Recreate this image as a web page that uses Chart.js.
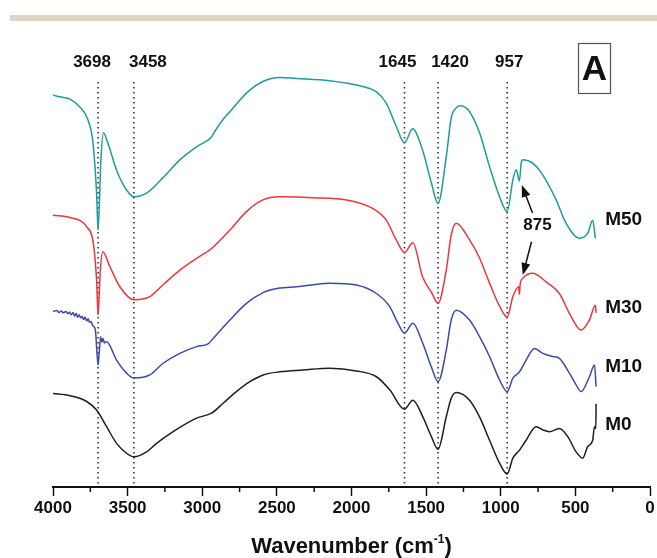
<!DOCTYPE html>
<html>
<head>
<meta charset="utf-8">
<script src="https://cdn.jsdelivr.net/npm/chart.js@4.4.0/dist/chart.umd.min.js"></script>
<style>
  html, body { margin: 0; padding: 0; background: #fff; }
  #wrap { position: relative; width: 657px; height: 558px; }
  .bar { position: absolute; left: 10px; right: 0; top: 15px; height: 6px; background: #ddd6c4; }
  canvas { position: absolute; left: 0; top: 0; }
</style>
</head>
<body>
<div id="wrap">
  <div class="bar"></div>
  <canvas id="ftir" width="657" height="558"></canvas>
</div>
<script>
// wavenumbers (cm-1) and transmittance (a.u., curves offset)
var m50Wn = [4000, 3953, 3886, 3819, 3766, 3732, 3708, 3698, 3679, 3663, 3632, 3574, 3507, 3458, 3373, 3264, 3150, 3038, 2938, 2916, 2862, 2815, 2695, 2594, 2481, 2369, 2146, 1925, 1833, 1767, 1700, 1645, 1591, 1524, 1465, 1420, 1365, 1332, 1300, 1276, 1240, 1209, 1142, 1075, 1008, 957, 919, 896, 875, 863, 852, 785, 718, 629, 562, 473, 417, 384, 366];
var m50T  = [87.1, 86.7, 86.2, 84.4, 81.6, 76.4, 65.3, 57.1, 72.7, 78.7, 76.4, 70.4, 66.0, 64.5, 65.3, 68.7, 72.7, 75.6, 77.8, 79.0, 81.6, 83.4, 87.8, 90.1, 91.0, 90.8, 90.3, 89.0, 87.8, 85.3, 80.1, 76.5, 79.6, 74.9, 67.6, 63.0, 73.4, 82.0, 84.2, 84.7, 84.4, 83.4, 78.7, 71.2, 64.5, 61.2, 68.2, 70.5, 68.0, 72.0, 72.7, 71.9, 69.3, 63.8, 58.6, 55.3, 56.4, 59.3, 55.3];

var m30Wn = [4000, 3886, 3774, 3730, 3708, 3698, 3683, 3667, 3619, 3552, 3458, 3351, 3264, 3150, 3038, 2938, 2815, 2704, 2594, 2481, 2260, 2034, 1858, 1767, 1700, 1645, 1589, 1524, 1465, 1420, 1365, 1332, 1298, 1209, 1142, 1075, 1008, 957, 919, 880, 875, 870, 852, 785, 696, 607, 540, 462, 406, 366, 361];
var m30T  = [60.4, 59.9, 57.8, 54.2, 46.0, 38.2, 48.2, 52.3, 49.0, 44.5, 41.6, 42.3, 44.9, 48.2, 50.8, 53.0, 57.1, 61.2, 63.8, 64.5, 64.3, 63.8, 61.9, 59.3, 54.9, 52.1, 54.3, 46.7, 43.3, 40.8, 48.2, 56.0, 58.6, 54.9, 50.9, 45.3, 40.2, 37.8, 42.3, 44.5, 42.8, 45.0, 46.4, 47.5, 45.6, 43.0, 38.6, 34.9, 37.1, 40.4, 38.7];

var m10Wn = [4000, 3975, 3960, 3945, 3930, 3915, 3900, 3890, 3878, 3866, 3855, 3845, 3835, 3825, 3815, 3805, 3795, 3785, 3775, 3765, 3755, 3745, 3735, 3725, 3715, 3698, 3690, 3681, 3672, 3665, 3655, 3641, 3574, 3507, 3458, 3351, 3262, 3150, 3038, 2961, 2927, 2815, 2704, 2592, 2481, 2369, 2146, 1967, 1833, 1744, 1689, 1645, 1589, 1522, 1465, 1420, 1365, 1332, 1298, 1209, 1142, 1075, 1008, 957, 919, 874, 830, 774, 718, 651, 607, 540, 495, 462, 406, 372, 361];
var m10T  = [39.0, 39.2, 38.8, 39.1, 38.7, 39.0, 38.5, 38.9, 38.3, 38.8, 38.0, 38.6, 37.7, 38.3, 37.6, 37.9, 37.2, 37.8, 36.9, 37.4, 36.6, 36.8, 35.9, 35.6, 34.6, 27.1, 30.0, 33.4, 32.2, 33.0, 32.0, 32.3, 28.2, 25.3, 24.2, 24.9, 27.5, 29.7, 31.2, 31.8, 33.0, 37.1, 40.8, 43.2, 44.2, 44.5, 45.3, 44.9, 43.0, 40.1, 36.4, 34.2, 36.4, 31.9, 26.7, 23.4, 30.4, 37.1, 39.3, 37.1, 33.4, 29.0, 23.8, 21.2, 24.2, 25.6, 28.2, 30.8, 29.7, 29.0, 28.6, 25.3, 22.7, 21.2, 24.5, 27.1, 22.3];

var m0Wn = [4000, 3886, 3774, 3708, 3641, 3574, 3507, 3458, 3373, 3306, 3195, 3038, 2938, 2860, 2771, 2681, 2592, 2481, 2325, 2146, 1967, 1833, 1744, 1645, 1589, 1522, 1465, 1420, 1365, 1332, 1298, 1209, 1142, 1075, 1008, 957, 919, 874, 830, 763, 718, 674, 607, 551, 495, 451, 417, 384, 372, 363, 361];
var m0T  = [20.8, 20.3, 19.0, 17.1, 13.4, 9.7, 7.5, 6.7, 7.8, 9.7, 12.3, 15.3, 16.4, 18.6, 21.2, 23.4, 24.9, 25.6, 26.0, 26.4, 25.8, 24.5, 21.6, 17.3, 19.3, 15.6, 11.2, 8.4, 15.6, 19.7, 21.0, 19.3, 15.6, 10.4, 5.3, 2.9, 6.4, 8.2, 10.4, 13.4, 12.7, 12.3, 13.0, 11.2, 7.8, 6.4, 9.0, 10.4, 13.4, 13.0, 18.5];

var seriesNames  = ['M50', 'M30', 'M10', 'M0'];
var seriesColors = ['#1f9c9c', '#e8383d', '#3b4aa6', '#1e1e1e'];
var peakWn = [3698, 3458, 1645, 1420, 957];

function pts(wn, t) {
  return wn.map(function (w, i) { return { x: w, y: t[i] }; });
}

var curves = [pts(m50Wn, m50T), pts(m30Wn, m30T), pts(m10Wn, m10T), pts(m0Wn, m0T)];

var datasets = curves.map(function (d, i) {
  return {
    label: seriesNames[i],
    data: d,
    borderColor: seriesColors[i],
    borderWidth: 1.5,
    pointRadius: 0,
    cubicInterpolationMode: 'monotone',
    fill: false
  };
});

peakWn.forEach(function (w) {
  datasets.push({
    label: 'peak ' + w,
    data: [{ x: w, y: 90 }, { x: w, y: 0 }],
    borderColor: '#333',
    borderWidth: 1.6,
    borderDash: [1.6, 3.4],
    pointRadius: 0
  });
});

var FONT = "'Liberation Sans', Arial, sans-serif";

function arrow(ctx, x1, y1, x2, y2) {
  var a = Math.atan2(y2 - y1, x2 - x1);
  ctx.beginPath();
  ctx.moveTo(x1, y1);
  ctx.lineTo(x2 - 8 * Math.cos(a), y2 - 8 * Math.sin(a));
  ctx.stroke();
  ctx.beginPath();
  ctx.moveTo(x2, y2);
  ctx.lineTo(x2 - 12 * Math.cos(a) + 4.5 * Math.sin(a), y2 - 12 * Math.sin(a) - 4.5 * Math.cos(a));
  ctx.lineTo(x2 - 12 * Math.cos(a) - 4.5 * Math.sin(a), y2 - 12 * Math.sin(a) + 4.5 * Math.cos(a));
  ctx.closePath();
  ctx.fill();
}

var decor = {
  id: 'decor',
  afterDraw: function (chart) {
    var ctx = chart.ctx, xs = chart.scales.x, ys = chart.scales.y;
    var area = chart.chartArea;
    ctx.save();
    ctx.fillStyle = '#111';
    ctx.strokeStyle = '#111';

    // minor ticks
    ctx.lineWidth = 1.5;
    for (var v = 250; v < 4000; v += 500) {
      var px = xs.getPixelForValue(v);
      ctx.beginPath();
      ctx.moveTo(px, area.bottom);
      ctx.lineTo(px, area.bottom + 5);
      ctx.stroke();
    }

    // peak labels
    var shift = [-6, 14, -7, 12, 2];
    ctx.font = 'bold 17px ' + FONT;
    ctx.textAlign = 'center';
    ctx.textBaseline = 'middle';
    peakWn.forEach(function (w, i) {
      ctx.fillText(String(w), xs.getPixelForValue(w) + shift[i], 62);
    });

    // series names at right end
    var nameY = [59.3, 39.8, 26.7, 13.8];
    ctx.font = 'bold 19px ' + FONT;
    ctx.textAlign = 'left';
    seriesNames.forEach(function (n, i) {
      ctx.fillText(n, xs.getPixelForValue(300), ys.getPixelForValue(nameY[i]));
    });

    // 875 annotation
    ctx.font = 'bold 17px ' + FONT;
    ctx.textAlign = 'center';
    ctx.fillText('875', xs.getPixelForValue(754), ys.getPixelForValue(58.2));
    ctx.lineWidth = 1.5;
    arrow(ctx, xs.getPixelForValue(787), ys.getPixelForValue(60.9), xs.getPixelForValue(859), ys.getPixelForValue(67.1));
    arrow(ctx, xs.getPixelForValue(794), ys.getPixelForValue(54.5), xs.getPixelForValue(852), ys.getPixelForValue(47.1));

    // panel letter
    ctx.strokeStyle = '#555';
    ctx.lineWidth = 1.2;
    ctx.strokeRect(578.5, 43.5, 32, 50);
    ctx.fillStyle = '#111';
    ctx.font = 'bold 35px ' + FONT;
    ctx.fillText('A', 594.5, 70);

    // axis title with superscript
    var t1 = 'Wavenumber (cm', sup = '-1', t2 = ')';
    ctx.font = 'bold 22px ' + FONT;
    var w1 = ctx.measureText(t1).width, w3 = ctx.measureText(t2).width;
    ctx.font = 'bold 12px ' + FONT;
    var w2 = ctx.measureText(sup).width;
    var x0 = (area.left + area.right) / 2 - (w1 + w2 + w3) / 2;
    ctx.textAlign = 'left';
    ctx.textBaseline = 'alphabetic';
    ctx.font = 'bold 22px ' + FONT;
    ctx.fillText(t1, x0, 553);
    ctx.font = 'bold 12px ' + FONT;
    ctx.fillText(sup, x0 + w1, 543);
    ctx.font = 'bold 22px ' + FONT;
    ctx.fillText(t2, x0 + w1 + w2, 553);
    ctx.restore();
  }
};

new Chart(document.getElementById('ftir').getContext('2d'), {
  type: 'line',
  data: { datasets: datasets },
  options: {
    responsive: false,
    animation: false,
    devicePixelRatio: 1,
    layout: { padding: { left: 53, right: 7, top: 37, bottom: 0 } },
    plugins: { legend: { display: false }, tooltip: { enabled: false } },
    scales: {
      x: {
        type: 'linear',
        reverse: true,
        min: 0,
        max: 4000,
        afterFit: function (scale) { scale.height = 71; },
        border: { color: '#111', width: 2 },
        grid: { drawOnChartArea: false, tickLength: 9, tickColor: '#111', tickWidth: 1.5 },
        ticks: {
          stepSize: 500,
          color: '#111',
          padding: 2,
          maxRotation: 0,
          font: { family: FONT, size: 17, weight: 'bold' },
          callback: function (value) { return String(value); }
        }
      },
      y: { display: false, min: 0, max: 100 }
    }
  },
  plugins: [decor]
});
</script>
</body>
</html>
